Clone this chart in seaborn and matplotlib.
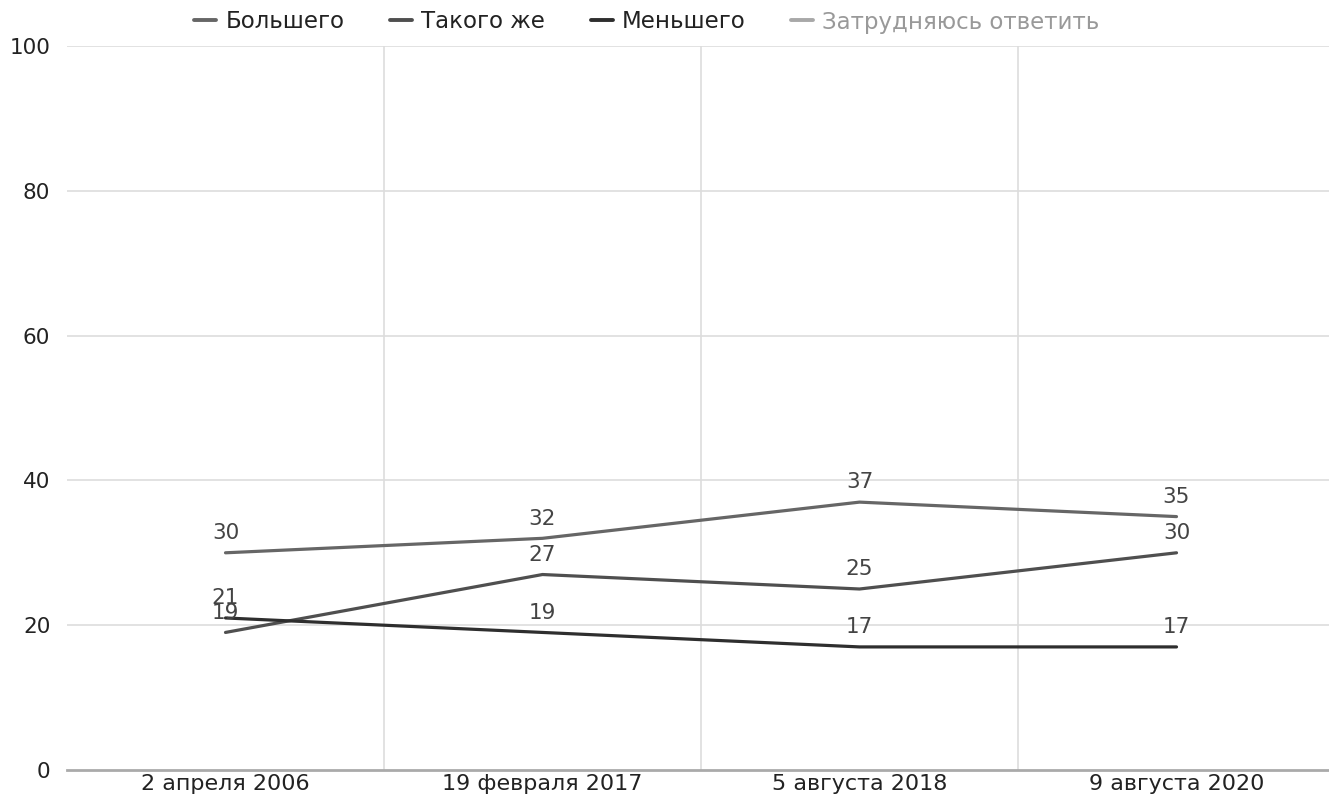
import matplotlib
matplotlib.use("Agg")
import matplotlib.pyplot as plt
from matplotlib.lines import Line2D
import seaborn as sns
import pandas as pd

categories = ["2 апреля 2006", "19 февраля 2017", "5 августа 2018", "9 августа 2020"]
series_names = ["Большего", "Такого же", "Меньшего", "Затрудняюсь ответить"]
bolshego = [30, 32, 37, 35]
takogo_zhe = [19, 27, 25, 30]
menshego = [21, 19, 17, 17]
y_ticks = [0, 20, 40, 60, 80, 100]

colors = {"Большего": "#666666", "Такого же": "#4f4f4f", "Меньшего": "#2e2e2e",
          "Затрудняюсь ответить": "#a8a8a8"}

sns.set_theme(style="white")
plt.rcParams["font.family"] = ["DejaVu Sans"]

rows = []
for name, vals in zip(series_names[:3], [bolshego, takogo_zhe, menshego]):
    for i, v in enumerate(vals):
        rows.append({"x": i, "value": v, "series": name})
df = pd.DataFrame(rows)

fig = plt.figure(figsize=(13.29, 7.98), dpi=100)
ax = fig.add_axes([67 / 1329, 1 - 770 / 798, 1268 / 1329, 724 / 798])

sns.lineplot(data=df, x="x", y="value", hue="series", palette=colors,
             hue_order=series_names[:3], linewidth=2.3, legend=False, ax=ax)

for name, vals in zip(series_names[:3], [bolshego, takogo_zhe, menshego]):
    for i, v in enumerate(vals):
        ax.annotate(str(v), (i, v), xytext=(0, 7), textcoords="offset points",
                    ha="center", va="bottom", fontsize=15.5, color="#444444")

ax.set_xlim(-0.5, 3.5)
ax.set_ylim(0, 100)
ax.set_yticks(y_ticks)
ax.set_yticklabels([str(t) for t in y_ticks])
ax.set_xticks(range(len(categories)))
ax.set_xticklabels(categories)
ax.set_xticks([0.5, 1.5, 2.5], minor=True)
ax.tick_params(axis="x", which="major", length=0, pad=3, labelsize=16, labelcolor="#222222")
ax.tick_params(axis="x", which="minor", length=9, width=1, color="#bbbbbb")
ax.tick_params(axis="y", length=0, pad=12, labelsize=15.5, labelcolor="#222222")
ax.set_xlabel("")
ax.set_ylabel("")

for y in y_ticks[1:]:
    ax.axhline(y, color="#dddddd", linewidth=1.2, zorder=0)
for x in [0.5, 1.5, 2.5]:
    ax.axvline(x, color="#dddddd", linewidth=1.2, zorder=0)

for s in ["top", "right", "left"]:
    ax.spines[s].set_visible(False)
ax.spines["bottom"].set_color("#aaaaaa")
ax.spines["bottom"].set_linewidth(2)

handles = [Line2D([0], [0], color=colors[n], linewidth=2.8) for n in series_names]
leg = fig.legend(handles, series_names, loc="center", bbox_to_anchor=(647 / 1329, 1 - 22 / 798),
                 ncol=4, frameon=False, fontsize=16.5, handlelength=0.95, handletextpad=0.4,
                 columnspacing=2.0)
for t, n in zip(leg.get_texts(), series_names):
    t.set_color("#999999" if n == "Затрудняюсь ответить" else "#222222")

fig.savefig("out.png", dpi=100)
